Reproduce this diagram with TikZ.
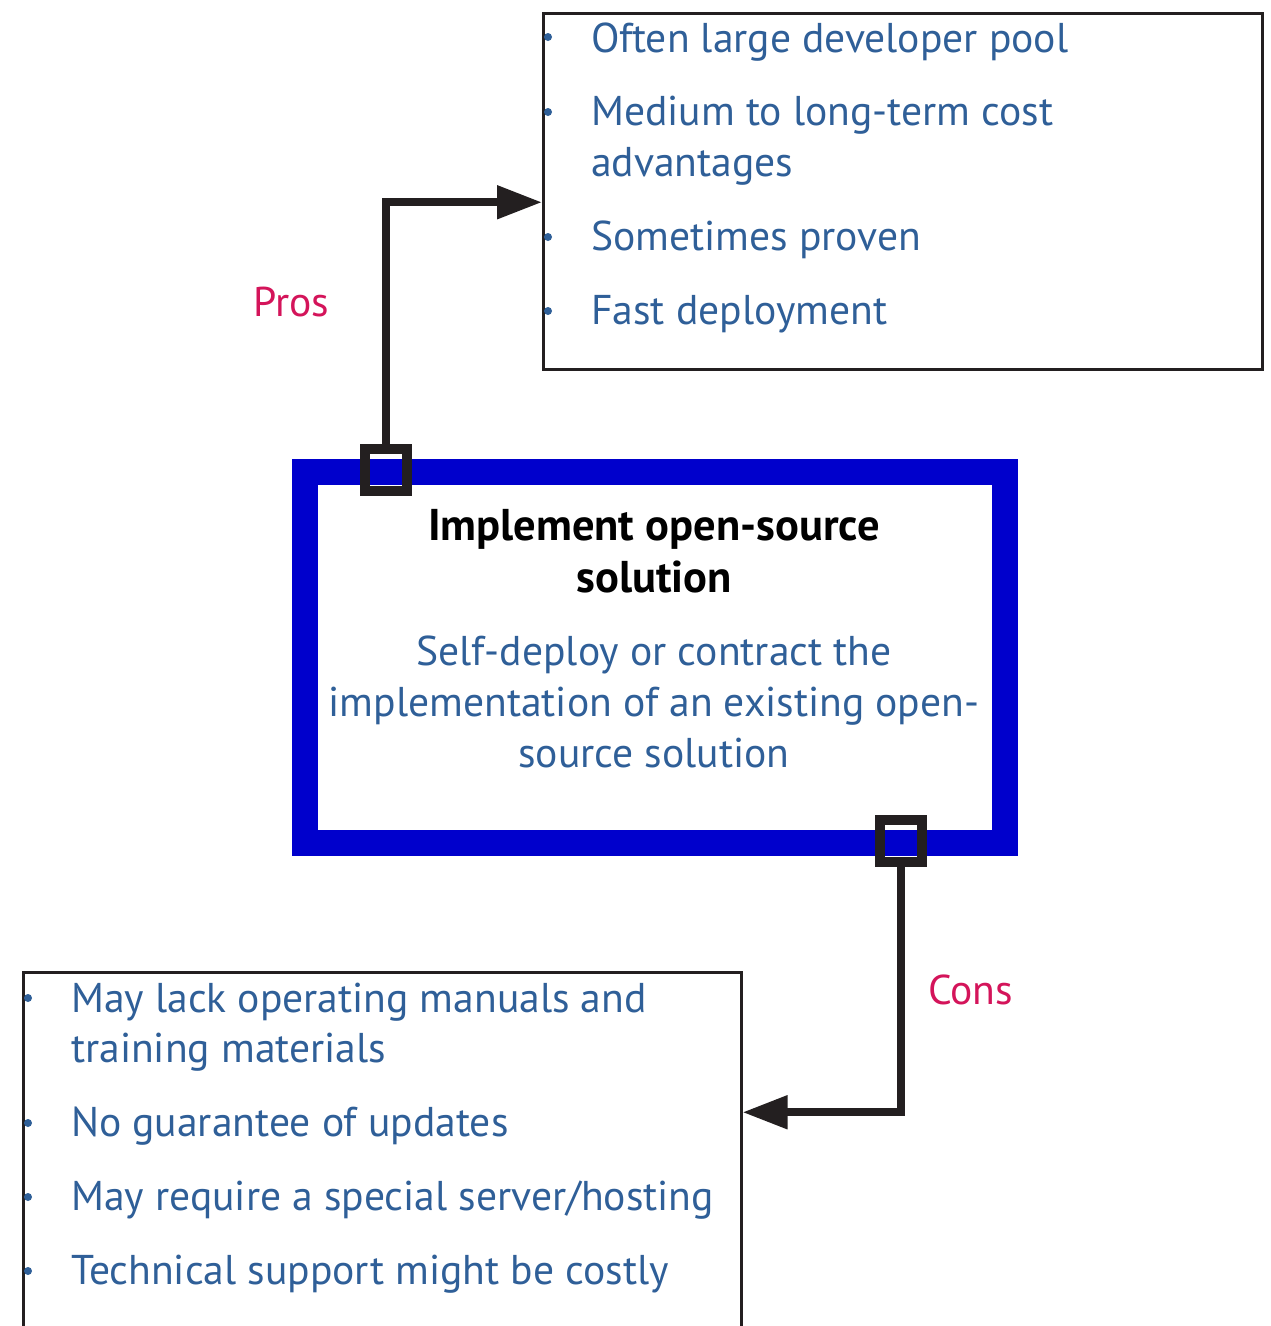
\documentclass[tikz,border=0pt]{standalone}
\usepackage{fontspec}
\setmainfont{PT Sans}
\usetikzlibrary{arrows.meta}
\definecolor{txtblue}{HTML}{2F5F98}
\definecolor{proscol}{HTML}{D4145A}
\definecolor{mainblue}{HTML}{0000CC}
\definecolor{darkline}{HTML}{231F20}
\tikzset{
  listbox/.style={draw=darkline, line width=2.5pt, inner sep=0pt, anchor=north west},
  item/.style={anchor=base west, inner sep=0pt, text=txtblue, font=\fontsize{41.6}{50}\selectfont},
  bul/.style={fill=txtblue, draw=none},
  conn/.style={draw=darkline, line width=8pt, -{Triangle[length=45pt,width=32pt]}},
  port/.style={draw=darkline, line width=10pt, minimum size=42pt, inner sep=0pt},
  lbl/.style={text=proscol, font=\fontsize{41.6}{50}\selectfont, anchor=base west, inner sep=0pt},
  title/.style={anchor=base, inner sep=0pt, font=\fontsize{44.5}{50}\selectfont\bfseries, text=black},
  body/.style={anchor=base, inner sep=0pt, font=\fontsize{41.6}{50}\selectfont, text=txtblue}
}
\begin{document}
\begin{tikzpicture}[x=1pt,y=-1pt]
\clip (0,0) rectangle (1271,1326);
\fill[white] (0,0) rectangle (1271,1326);
% boxes
\node[listbox, minimum width=719pt, minimum height=356pt] (probox) at (542,12) {};
\node[listbox, minimum width=718pt, minimum height=380pt] (conbox) at (22,971) {};
\node[draw=mainblue, line width=26pt, minimum width=700pt, minimum height=371pt, inner sep=0pt] (main) at (655,657.5) {};
% main text
\node[title] (t1) at (654,540) {Implement open-source};
\node[title] (t2) at (654,592) {solution};
\node[body] (b1) at (654,665) {Self-deploy or contract the};
\node[body] (b2) at (654,716) {implementation of an existing open-};
\node[body] (b3) at (654,767) {source solution};
% ports
\node[port] (sqA) at (386,470) {};
\node[port] (sqB) at (901,841) {};
% connectors
\draw[conn] (sqA.north) |- ([yshift=-11pt]probox.west);
\draw[conn] (sqB.south) |- ([yshift=50pt]conbox.east);
% labels
\node[lbl] (pros) at (253,316) {Pros};
\node[lbl] (cons) at (928,1004) {Cons};
% pros list
\fill[bul] (548,37) circle (4);
\node[item] (p1) at (591,52) {Often large developer pool};
\fill[bul] (548,112) circle (4);
\node[item] (p2) at (591,125) {Medium to long-term cost};
\node[item] (p2b) at (591,176) {advantages};
\fill[bul] (548,237) circle (4);
\node[item] (p3) at (591,250) {Sometimes proven};
\fill[bul] (548,311) circle (4);
\node[item] (p4) at (591,324) {Fast deployment};
% cons list
\fill[bul] (28,998) circle (4);
\node[item] (c1) at (71,1012) {May lack operating manuals and};
\node[item] (c1b) at (71,1062) {training materials};
\fill[bul] (28,1123) circle (4);
\node[item] (c2) at (71,1136) {No guarantee of updates};
\fill[bul] (28,1197) circle (4);
\node[item] (c3) at (71,1210) {May require a special server/hosting};
\fill[bul] (28,1271) circle (4);
\node[item] (c4) at (71,1284) {Technical support might be costly};
\end{tikzpicture}
\end{document}
